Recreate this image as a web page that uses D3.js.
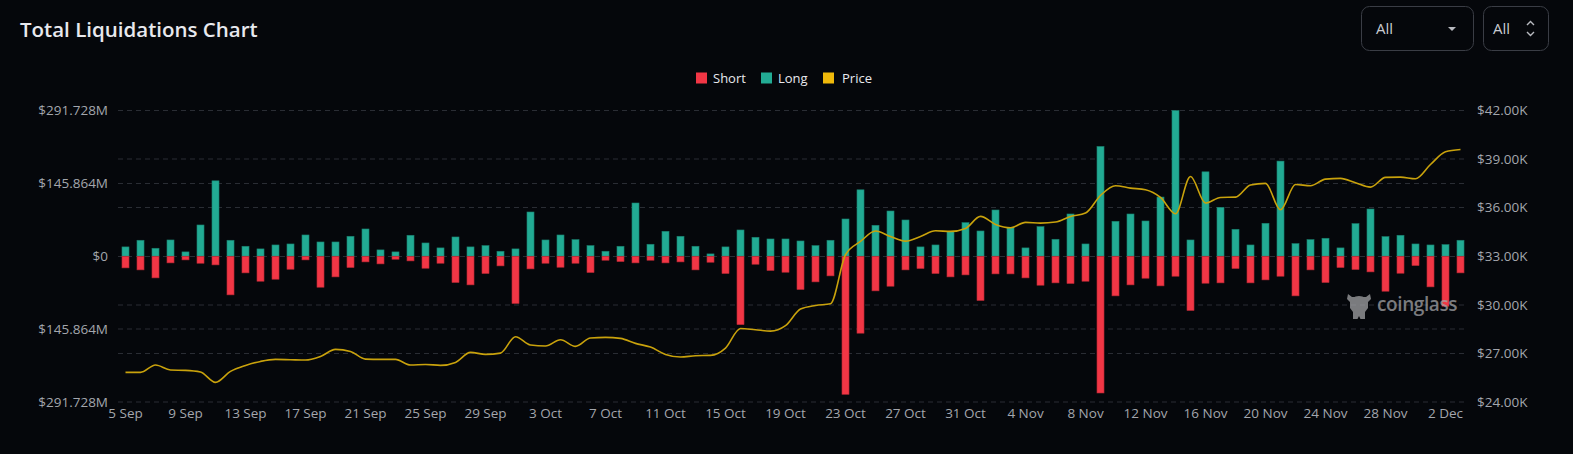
<!DOCTYPE html>
<html>
<head>
<meta charset="utf-8">
<script src="https://cdn.jsdelivr.net/npm/d3@7"></script>
<style>
  html, body { margin: 0; padding: 0; background: #05070b; }
  svg { display: block; }
  text { font-family: "Open Sans", "Noto Sans", sans-serif; }
</style>
</head>
<body>
<svg id="chart" width="1573" height="454"></svg>
<script>
// ---------- DATA ----------
const categories = [
  "5 Sep","6 Sep","7 Sep","8 Sep","9 Sep","10 Sep","11 Sep","12 Sep","13 Sep","14 Sep","15 Sep","16 Sep","17 Sep","18 Sep","19 Sep","20 Sep","21 Sep","22 Sep",
  "23 Sep","24 Sep","25 Sep","26 Sep","27 Sep","28 Sep","29 Sep","30 Sep","1 Oct","2 Oct","3 Oct","4 Oct","5 Oct","6 Oct","7 Oct","8 Oct","9 Oct","10 Oct",
  "11 Oct","12 Oct","13 Oct","14 Oct","15 Oct","16 Oct","17 Oct","18 Oct","19 Oct","20 Oct","21 Oct","22 Oct","23 Oct","24 Oct","25 Oct","26 Oct","27 Oct","28 Oct",
  "29 Oct","30 Oct","31 Oct","1 Nov","2 Nov","3 Nov","4 Nov","5 Nov","6 Nov","7 Nov","8 Nov","9 Nov","10 Nov","11 Nov","12 Nov","13 Nov","14 Nov","15 Nov",
  "16 Nov","17 Nov","18 Nov","19 Nov","20 Nov","21 Nov","22 Nov","23 Nov","24 Nov","25 Nov","26 Nov","27 Nov","28 Nov","29 Nov","30 Nov","1 Dec","2 Dec","3 Dec"
];

// Long liquidations (millions USD), drawn upward
const longValues = [
  18.7,32,16,32.6,8.7,62.6,151,32,20,14.7,22.6,24.6,42.6,28.6,28.6,40,54.6,12.7,
  8.7,42,26.6,16.7,38.6,18.7,21.3,10,14.7,88.6,32.6,42.6,33.3,21.3,10,20,106.6,24,
  50,40,20,4.7,18.7,52.6,38,34.6,34.6,30.6,21.3,32,74.6,133,62,90.6,72.6,18.7,
  22.6,49.3,67.3,50.6,92.6,58,16.7,59.3,34,84.6,24.6,219.8,70,84.6,70.6,118.5,291.728,32.6,
  169,98,54,22.6,66,190.5,25.3,33.3,36,16.7,65.3,94.6,39.3,42,24.6,22.6,23.3,32
];

// Short liquidations (millions USD), drawn downward
const shortValues = [
  23.3,27.3,43.3,13.3,7.3,14,17.3,77.3,33.3,50,46,26,7.3,62,41.3,22.6,11.3,15.3,
  6,9.3,24,14,52.6,57.3,34.6,19.3,94.6,25.3,14,22,14,32.6,8,10.7,13.3,8,
  13.3,11.3,27.3,12,34.6,137,16,28.6,32,66.6,51.3,39.3,276.4,154,69.3,60,27.3,24.6,
  34.6,41.3,37.3,88.6,35.3,35.3,43.3,58,53.3,54.6,50,273.7,79.3,57.3,44,59.3,40,108.6,
  54,53.3,24.6,53.3,47.3,40,79.3,27.3,52.6,22.6,26.6,31.3,70,34,18.7,61.3,100,33.3
];

// BTC price (USD)
const priceValues = [
  25827,25827,26283,25975,25955,25851,25210,25889,26259,26506,26630,26610,26590,26815,27247,27123,26650,26630,
  26630,26283,26320,26260,26444,27062,26939,27020,28030,27516,27455,27845,27435,27950,27990,27930,27620,27390,
  26938,26775,26857,26878,27332,28543,28460,28378,28710,29740,29964,30067,33092,33914,34555,34222,33936,34222,
  34574,34533,34718,35460,34965,34760,35090,35048,35110,35460,35666,36753,37352,37208,37105,36630,35623,37926,
  36284,36630,36650,37395,37497,35870,37435,37352,37765,37806,37538,37270,37868,37888,37785,38667,39450,39593
];

const xTickLabels = ["5 Sep","9 Sep","13 Sep","17 Sep","21 Sep","25 Sep","29 Sep","3 Oct","7 Oct","11 Oct","15 Oct","19 Oct",
  "23 Oct","27 Oct","31 Oct","4 Nov","8 Nov","12 Nov","16 Nov","20 Nov","24 Nov","28 Nov","2 Dec"];
const leftTickValues = [-291.728, -145.864, 0, 145.864, 291.728];
const leftTickLabels = ["$291.728M", "$145.864M", "$0", "$145.864M", "$291.728M"];
const rightTickValues = [24000, 27000, 30000, 33000, 36000, 39000, 42000];
const rightTickLabels = ["$24.00K", "$27.00K", "$30.00K", "$33.00K", "$36.00K", "$39.00K", "$42.00K"];
const legendItems = ["Short", "Long", "Price"];

// ---------- STYLE ----------
const C = {
  short: "#f23645", long: "#22ab94", price: "#f0b90b", priceLine: "#c9a20c",
  grid: "#2a2d34", axisText: "#a3a6ad", title: "#e8e9ee"
};

const svg = d3.select("#chart");
const plot = { left: 118, right: 1468, top: 110.5, bottom: 402 };

const x = d3.scaleBand().domain(categories).range([plot.left, plot.right])
  .paddingInner(0.53).paddingOuter(0.265);
const yL = d3.scaleLinear().domain([-291.728, 291.728]).range([plot.bottom, plot.top]);
const yR = d3.scaleLinear().domain([24000, 42000]).range([plot.bottom, plot.top]);

// Title
svg.append("text").attr("x", 20).attr("y", 37)
  .attr("fill", C.title).attr("font-size", 20.5).attr("font-weight", 600)
  .text("Total Liquidations Chart");

// Controls
const ctrl = svg.append("g");
ctrl.append("rect").attr("x", 1361.5).attr("y", 6.5).attr("width", 112).attr("height", 44).attr("rx", 8)
  .attr("fill", "#05070b").attr("stroke", "#3a3d45");
ctrl.append("text").attr("x", 1376).attr("y", 34).attr("fill", "#c9cbd1").attr("font-size", 15).text("All");
ctrl.append("path").attr("d", "M1448,27 L1456,27 L1452,31 Z").attr("fill", "#b8bac0");
ctrl.append("rect").attr("x", 1483.5).attr("y", 6.5).attr("width", 65).attr("height", 44).attr("rx", 8)
  .attr("fill", "#05070b").attr("stroke", "#3a3d45");
ctrl.append("text").attr("x", 1493).attr("y", 34).attr("fill", "#c9cbd1").attr("font-size", 15).text("All");
ctrl.append("path").attr("d", "M1527,25 L1530.5,21.5 L1534,25 M1527,32 L1530.5,35.5 L1534,32")
  .attr("fill", "none").attr("stroke", "#b8bac0").attr("stroke-width", 1.4);

// Legend
const legendColors = [C.short, C.long, C.price];
const legendX = [696, 761, 823];
const lg = svg.append("g");
legendItems.forEach((name, i) => {
  lg.append("rect").attr("x", legendX[i]).attr("y", 72.5).attr("width", 11).attr("height", 11)
    .attr("fill", legendColors[i]);
  lg.append("text").attr("x", legendX[i] + (i === 2 ? 19 : 17)).attr("y", 83)
    .attr("fill", "#e8e9ee").attr("font-size", 13).text(name);
});

// Gridlines
const gridG = svg.append("g");
const gridYs = Array.from(new Set(leftTickValues.map(v => Math.round(yL(v) * 2) / 2)
  .concat(rightTickValues.map(v => Math.round(yR(v) * 2) / 2))));
gridG.selectAll("line").data(gridYs).join("line")
  .attr("x1", plot.left).attr("x2", plot.right - 1)
  .attr("y1", d => d).attr("y2", d => d)
  .attr("stroke", C.grid).attr("stroke-width", 1).attr("stroke-dasharray", "5,4");

// Left axis
const axL = d3.axisLeft(yL).tickValues(leftTickValues).tickSize(0).tickPadding(0)
  .tickFormat((d, i) => leftTickLabels[i]);
const gL = svg.append("g").attr("transform", "translate(108,0)").call(axL);
gL.select(".domain").remove();
gL.selectAll("text").attr("fill", C.axisText).attr("font-size", 13.5)
  .attr("font-family", "'Open Sans', sans-serif");

// Right axis
const axR = d3.axisRight(yR).tickValues(rightTickValues).tickSize(0).tickPadding(0)
  .tickFormat((d, i) => rightTickLabels[i]);
const gR = svg.append("g").attr("transform", "translate(1477,0)").call(axR);
gR.select(".domain").remove();
gR.selectAll("text").attr("fill", C.axisText).attr("font-size", 13.5)
  .attr("font-family", "'Open Sans', sans-serif");

// Bottom axis
const axB = d3.axisBottom(x).tickValues(xTickLabels).tickSize(0).tickPadding(0);
const gB = svg.append("g").attr("transform", "translate(0,408)").call(axB);
gB.select(".domain").remove();
gB.selectAll("text").attr("fill", C.axisText).attr("font-size", 13.5)
  .attr("font-family", "'Open Sans', sans-serif");

// Watermark
function drawWatermark() {
  const wm = svg.append("g").attr("opacity", 0.72);
  const lx = 1346, ly = 291;
  wm.append("path")
    .attr("d", `M${lx+2},${ly+3} L${lx+6},${ly+6} L${lx+20},${ly+6} L${lx+24},${ly+3} L${lx+25},${ly+8}
      L${lx+22},${ly+11} L${lx+22},${ly+17} L${lx+19},${ly+21} L${lx+19},${ly+28} L${lx+14.5},${ly+28}
      L${lx+13},${ly+25} L${lx+11.5},${ly+28} L${lx+7},${ly+28} L${lx+7},${ly+21} L${lx+4},${ly+17}
      L${lx+4},${ly+11} L${lx+1},${ly+8} Z`)
    .attr("fill", "#a8a8ab");
  wm.append("ellipse").attr("cx", lx + 13).attr("cy", ly + 12).attr("rx", 9).attr("ry", 7).attr("fill", "#a8a8ab");
  wm.append("text").attr("x", 1377).attr("y", 311).attr("fill", "#a8a8ab")
    .attr("font-size", 19).attr("font-weight", 600).attr("letter-spacing", -0.4).text("coinglass");
}

// Bars
const bars = svg.append("g");
bars.selectAll("rect.long").data(categories).join("rect").attr("class", "long")
  .attr("x", d => x(d)).attr("width", x.bandwidth())
  .attr("y", (d, i) => yL(longValues[i]))
  .attr("height", (d, i) => yL(0) - yL(longValues[i]))
  .attr("fill", C.long).attr("stroke", d3.color(C.long).darker(0.9)).attr("stroke-width", 0.6);
bars.selectAll("rect.short").data(categories).join("rect").attr("class", "short")
  .attr("x", d => x(d)).attr("width", x.bandwidth())
  .attr("y", yL(0))
  .attr("height", (d, i) => yL(-shortValues[i]) - yL(0))
  .attr("fill", C.short).attr("stroke", d3.color(C.short).darker(0.9)).attr("stroke-width", 0.6);

drawWatermark();

// Price line
const line = d3.line()
  .x((d, i) => x(categories[i]) + x.bandwidth() / 2)
  .y(d => yR(d))
  .curve(d3.curveMonotoneX);
svg.append("path").datum(priceValues).attr("d", line)
  .attr("fill", "none").attr("stroke", C.priceLine).attr("stroke-width", 1.6);
</script>
</body>
</html>
